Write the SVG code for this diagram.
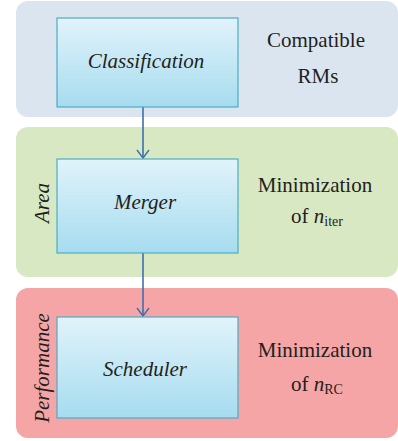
<svg xmlns="http://www.w3.org/2000/svg" width="398" height="441" viewBox="0 0 398 441" font-family="Liberation Serif, serif" font-size="21">
<style>
text{fill:#231f20}
.i{font-style:italic}
.box{fill:url(#g);stroke:#4bacc6;stroke-width:1.2}
.c{fill:none;stroke:#3f6fb0;stroke-width:1.6}
.h{fill:none;stroke:#3f6fb0;stroke-width:1.4}
</style>
<defs>
<linearGradient id="g" x1="0" y1="0" x2="0" y2="1">
<stop offset="0" stop-color="#e1f3fa"/>
<stop offset="1" stop-color="#a6dcef"/>
</linearGradient>
</defs>
<g id="panel-top"><rect x="16" y="1" width="382" height="116" rx="12" fill="#dbe5f0"/></g>
<g id="panel-area"><rect x="16" y="127" width="382" height="150" rx="12" fill="#d8e8c2"/></g>
<g id="panel-perf"><rect x="16" y="288" width="382" height="150" rx="12" fill="#f5a5a5"/></g>
<g id="connectors">
<path class="c" d="M143,107 V158"/>
<path class="c" d="M143,253 V316"/>
<path class="h" d="M137,150 L143,158 L149,150"/>
<path class="h" d="M137,308 L143,316 L149,308"/>
</g>
<g id="classification">
<rect class="box" x="57" y="18" width="181" height="89"/>
<text class="i" x="146" y="68" text-anchor="middle">Classification</text>
</g>
<g id="merger">
<rect class="box" x="57" y="159" width="181" height="94"/>
<text class="i" x="145" y="209" text-anchor="middle">Merger</text>
</g>
<g id="scheduler">
<rect class="box" x="57" y="317" width="181" height="101"/>
<text class="i" x="145" y="376" text-anchor="middle">Scheduler</text>
</g>
<g id="label-top">
<text x="316" y="47" text-anchor="middle">Compatible</text>
<text x="318" y="83" text-anchor="middle">RMs</text>
</g>
<g id="label-area">
<text class="i" transform="translate(49,203) rotate(-90)" text-anchor="middle">Area</text>
<text x="315" y="192" text-anchor="middle">Minimization</text>
<text x="291" y="223">of <tspan class="i">n</tspan><tspan font-size="14" dy="3">iter</tspan></text>
</g>
<g id="label-perf">
<text class="i" transform="translate(49,368) rotate(-90)" text-anchor="middle">Performance</text>
<text x="315" y="357" text-anchor="middle">Minimization</text>
<text x="291" y="391">of <tspan class="i">n</tspan><tspan font-size="14" dy="3">RC</tspan></text>
</g>
</svg>
